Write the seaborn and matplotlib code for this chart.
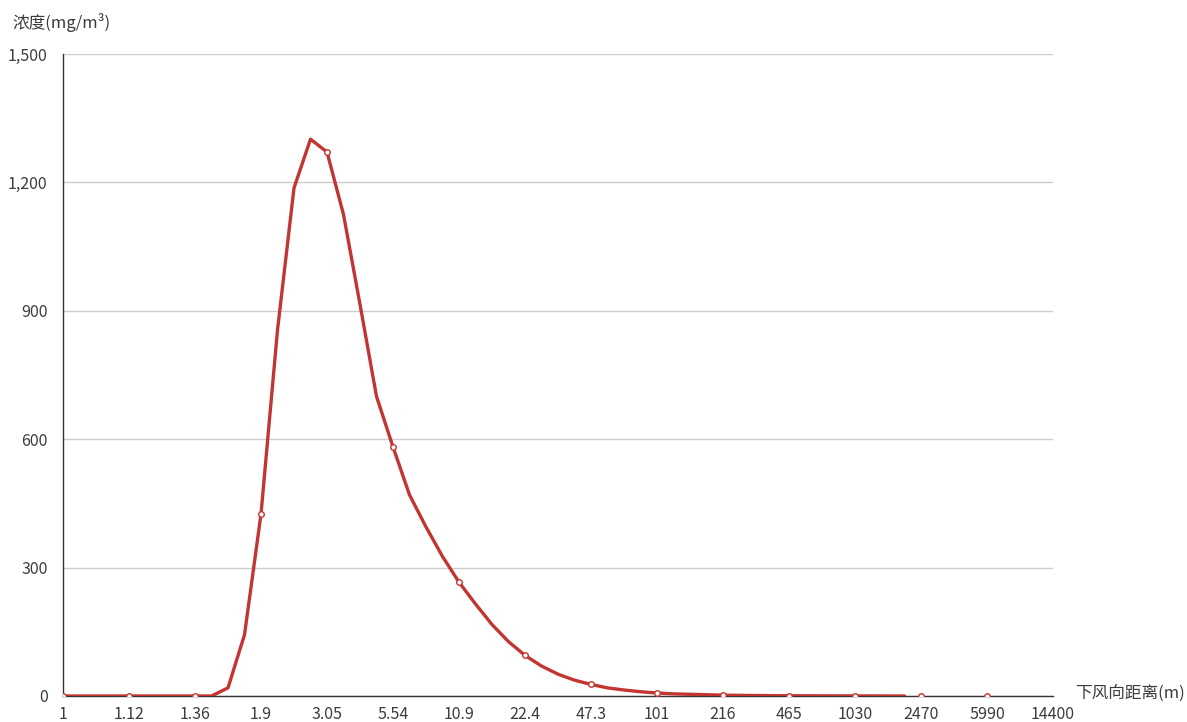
import numpy as np
import pandas as pd
import matplotlib
matplotlib.use("Agg")
import matplotlib.pyplot as plt
import seaborn as sns
from matplotlib.ticker import FuncFormatter

# ---- data ----
x_labels = ["1", "1.12", "1.36", "1.9", "3.05", "5.54", "10.9", "22.4", "47.3",
            "101", "216", "465", "1030", "2470", "5990", "14400"]

# concentration sampled at quarter steps between labelled distances
line_values = [0, 0, 0, 0,
               0, 0, 0, 0,
               0, 0, 19, 143,
               425, 855, 1187, 1301,
               1271, 1125, 915, 700,
               582, 470, 395, 326,
               266, 215, 167, 127,
               95, 70, 51, 37,
               27, 19, 14, 10,
               7, 5, 4, 3,
               2, 1.5, 1.1, 0.8,
               0.6, 0.45, 0.35, 0.25,
               0.2, 0.15, 0.1, 0.05]
line_step = 0.25

# concentration at labelled distances (markers)
marker_values = [0, 0, 0, 425, 1271, 582, 266, 95, 27, 7, 2, 0.6, 0.2, 0, 0]

y_ticks = [0, 300, 600, 900, 1200, 1500]

y_title = "浓度(mg/m³)"
x_title = "下风向距离(m)"

# ---- style ----
sns.set_theme(style="white")
plt.rcParams['font.family'] = ['Noto Sans CJK SC', 'DejaVu Sans']

RED = "#c23531"
TXT = "#3c3c3c"

line_df = pd.DataFrame({"pos": np.arange(len(line_values)) * line_step,
                        "val": line_values})
mark_df = pd.DataFrame({"pos": np.arange(len(marker_values)),
                        "val": marker_values})

fig = plt.figure(figsize=(11.87, 7.22), dpi=100)
ax = fig.add_axes([63 / 1187, 26 / 722, (1053 - 63) / 1187, (696 - 54) / 722])

sns.lineplot(data=line_df, x="pos", y="val", ax=ax, color=RED, linewidth=2.4,
             zorder=3)
sns.scatterplot(data=mark_df, x="pos", y="val", ax=ax, s=16, marker="o",
                facecolor="white", edgecolor=RED, linewidth=1.0, zorder=4)

ax.set_xlim(0, len(x_labels) - 1)
ax.set_ylim(0, 1500)
ax.set_xticks(range(len(x_labels)))
ax.set_xticklabels(x_labels)
ax.set_yticks(y_ticks)
ax.yaxis.set_major_formatter(FuncFormatter(lambda v, p: f"{int(v):,}"))

ax.grid(axis="y", color="#cccccc", linewidth=1.0)
ax.grid(axis="x", visible=False)
ax.set_axisbelow(True)

for s in ["top", "right"]:
    ax.spines[s].set_visible(False)
for s in ["left", "bottom"]:
    ax.spines[s].set_color("#333333")
    ax.spines[s].set_linewidth(1.0)

ax.tick_params(axis="both", which="major", direction="out", length=5,
               width=1, color="#333333", labelcolor=TXT, labelsize=11.5)
ax.tick_params(axis="x", pad=2)
ax.tick_params(axis="y", pad=6)

ax.set_xlabel("")
ax.set_ylabel("")

fig.text(12 / 1187, 1 - 22 / 722, y_title, fontsize=12, color=TXT,
         ha="left", va="center")
fig.text(1075 / 1187, 1 - 693 / 722, x_title, fontsize=12, color=TXT,
         ha="left", va="center")

fig.savefig("out.png", dpi=100, facecolor="white")
